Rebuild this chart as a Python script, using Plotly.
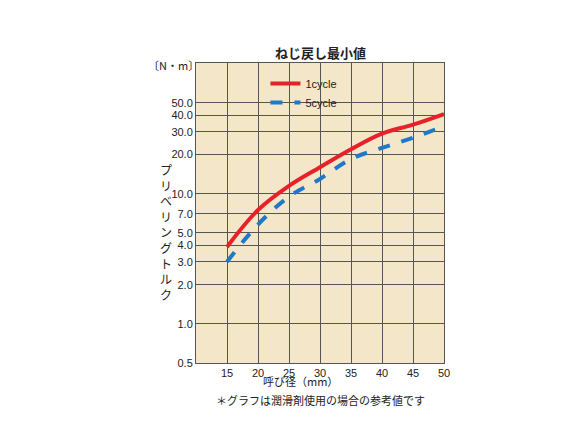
import plotly.graph_objects as go

sizes = [15, 20, 25, 30, 35, 40, 45, 50]
cycle1 = [3.9, 7.5, 11.5, 16, 22, 29, 34, 41]
cycle5 = [3.0, 5.8, 9.5, 13, 18.5, 22.5, 27, 33]
ytick_vals = [0.5, 1, 2, 3, 4, 5, 7, 10, 20, 30, 40, 50]
ytick_text = ["0.5", "1.0", "2.0", "3.0", "4.0", "5.0", "7.0", "10.0", "20.0", "30.0", "40.0", "50.0"]
xtick_vals = [15, 20, 25, 30, 35, 40, 45, 50]

font = "Noto Sans CJK JP"
fig = go.Figure()
fig.add_trace(go.Scatter(x=sizes, y=cycle1, mode="lines", name="1cycle",
                         line=dict(color="#e8202a", width=4, shape="spline")))
fig.add_trace(go.Scatter(x=sizes, y=cycle5, mode="lines", name="5cycle",
                         line=dict(color="#1f78c8", width=4, dash="dash", shape="spline")))
fig.update_layout(
    width=583, height=437,
    margin=dict(l=188, r=147, t=55, b=82),
    paper_bgcolor="white", plot_bgcolor="#f4e7c9",
    font=dict(family=font, size=11, color="#222"),
    showlegend=True,
    legend=dict(x=0.28, y=0.98, xanchor="left", yanchor="top", bgcolor="rgba(0,0,0,0)",
                font=dict(size=11, family="Liberation Sans")),
    xaxis=dict(range=[10, 50], tickvals=xtick_vals, showgrid=True, gridcolor="#555",
               gridwidth=1, dtick=5, tick0=10, showline=True, linecolor="#555", mirror=True,
               ticks="", tickfont=dict(size=11, family="Liberation Sans")),
    yaxis=dict(type="log", range=[-0.30103, 2.005], tickvals=ytick_vals, ticktext=ytick_text,
               showgrid=True, gridcolor="#555", gridwidth=1, showline=True, linecolor="#555",
               mirror=True, ticks="", tickfont=dict(size=11, family="Liberation Sans")),
)
fig.add_annotation(text="<b>ねじ戻し最小値</b>", x=0.5, y=1.0, xref="paper", yref="paper",
                   yshift=22, showarrow=False, font=dict(size=13))
fig.add_annotation(text="〔N・m〕", x=-0.2, y=1.0, xref="paper", yref="paper", xanchor="left",
                   yshift=8, showarrow=False, font=dict(size=11))
fig.add_annotation(text="<br>".join("プリベリングトルク"), x=-0.155, y=0.68, xref="paper", yref="paper",
                   showarrow=False, font=dict(size=12))
fig.add_annotation(text="呼び径（mm）", x=0.42, y=0, xref="paper", yref="paper", yshift=-28,
                   showarrow=False, font=dict(size=11))
fig.add_annotation(text="＊グラフは潤滑剤使用の場合の参考値です", x=0.5, y=0, xref="paper", yref="paper",
                   yshift=-47, showarrow=False, font=dict(size=11))
fig.write_html("out.html")
